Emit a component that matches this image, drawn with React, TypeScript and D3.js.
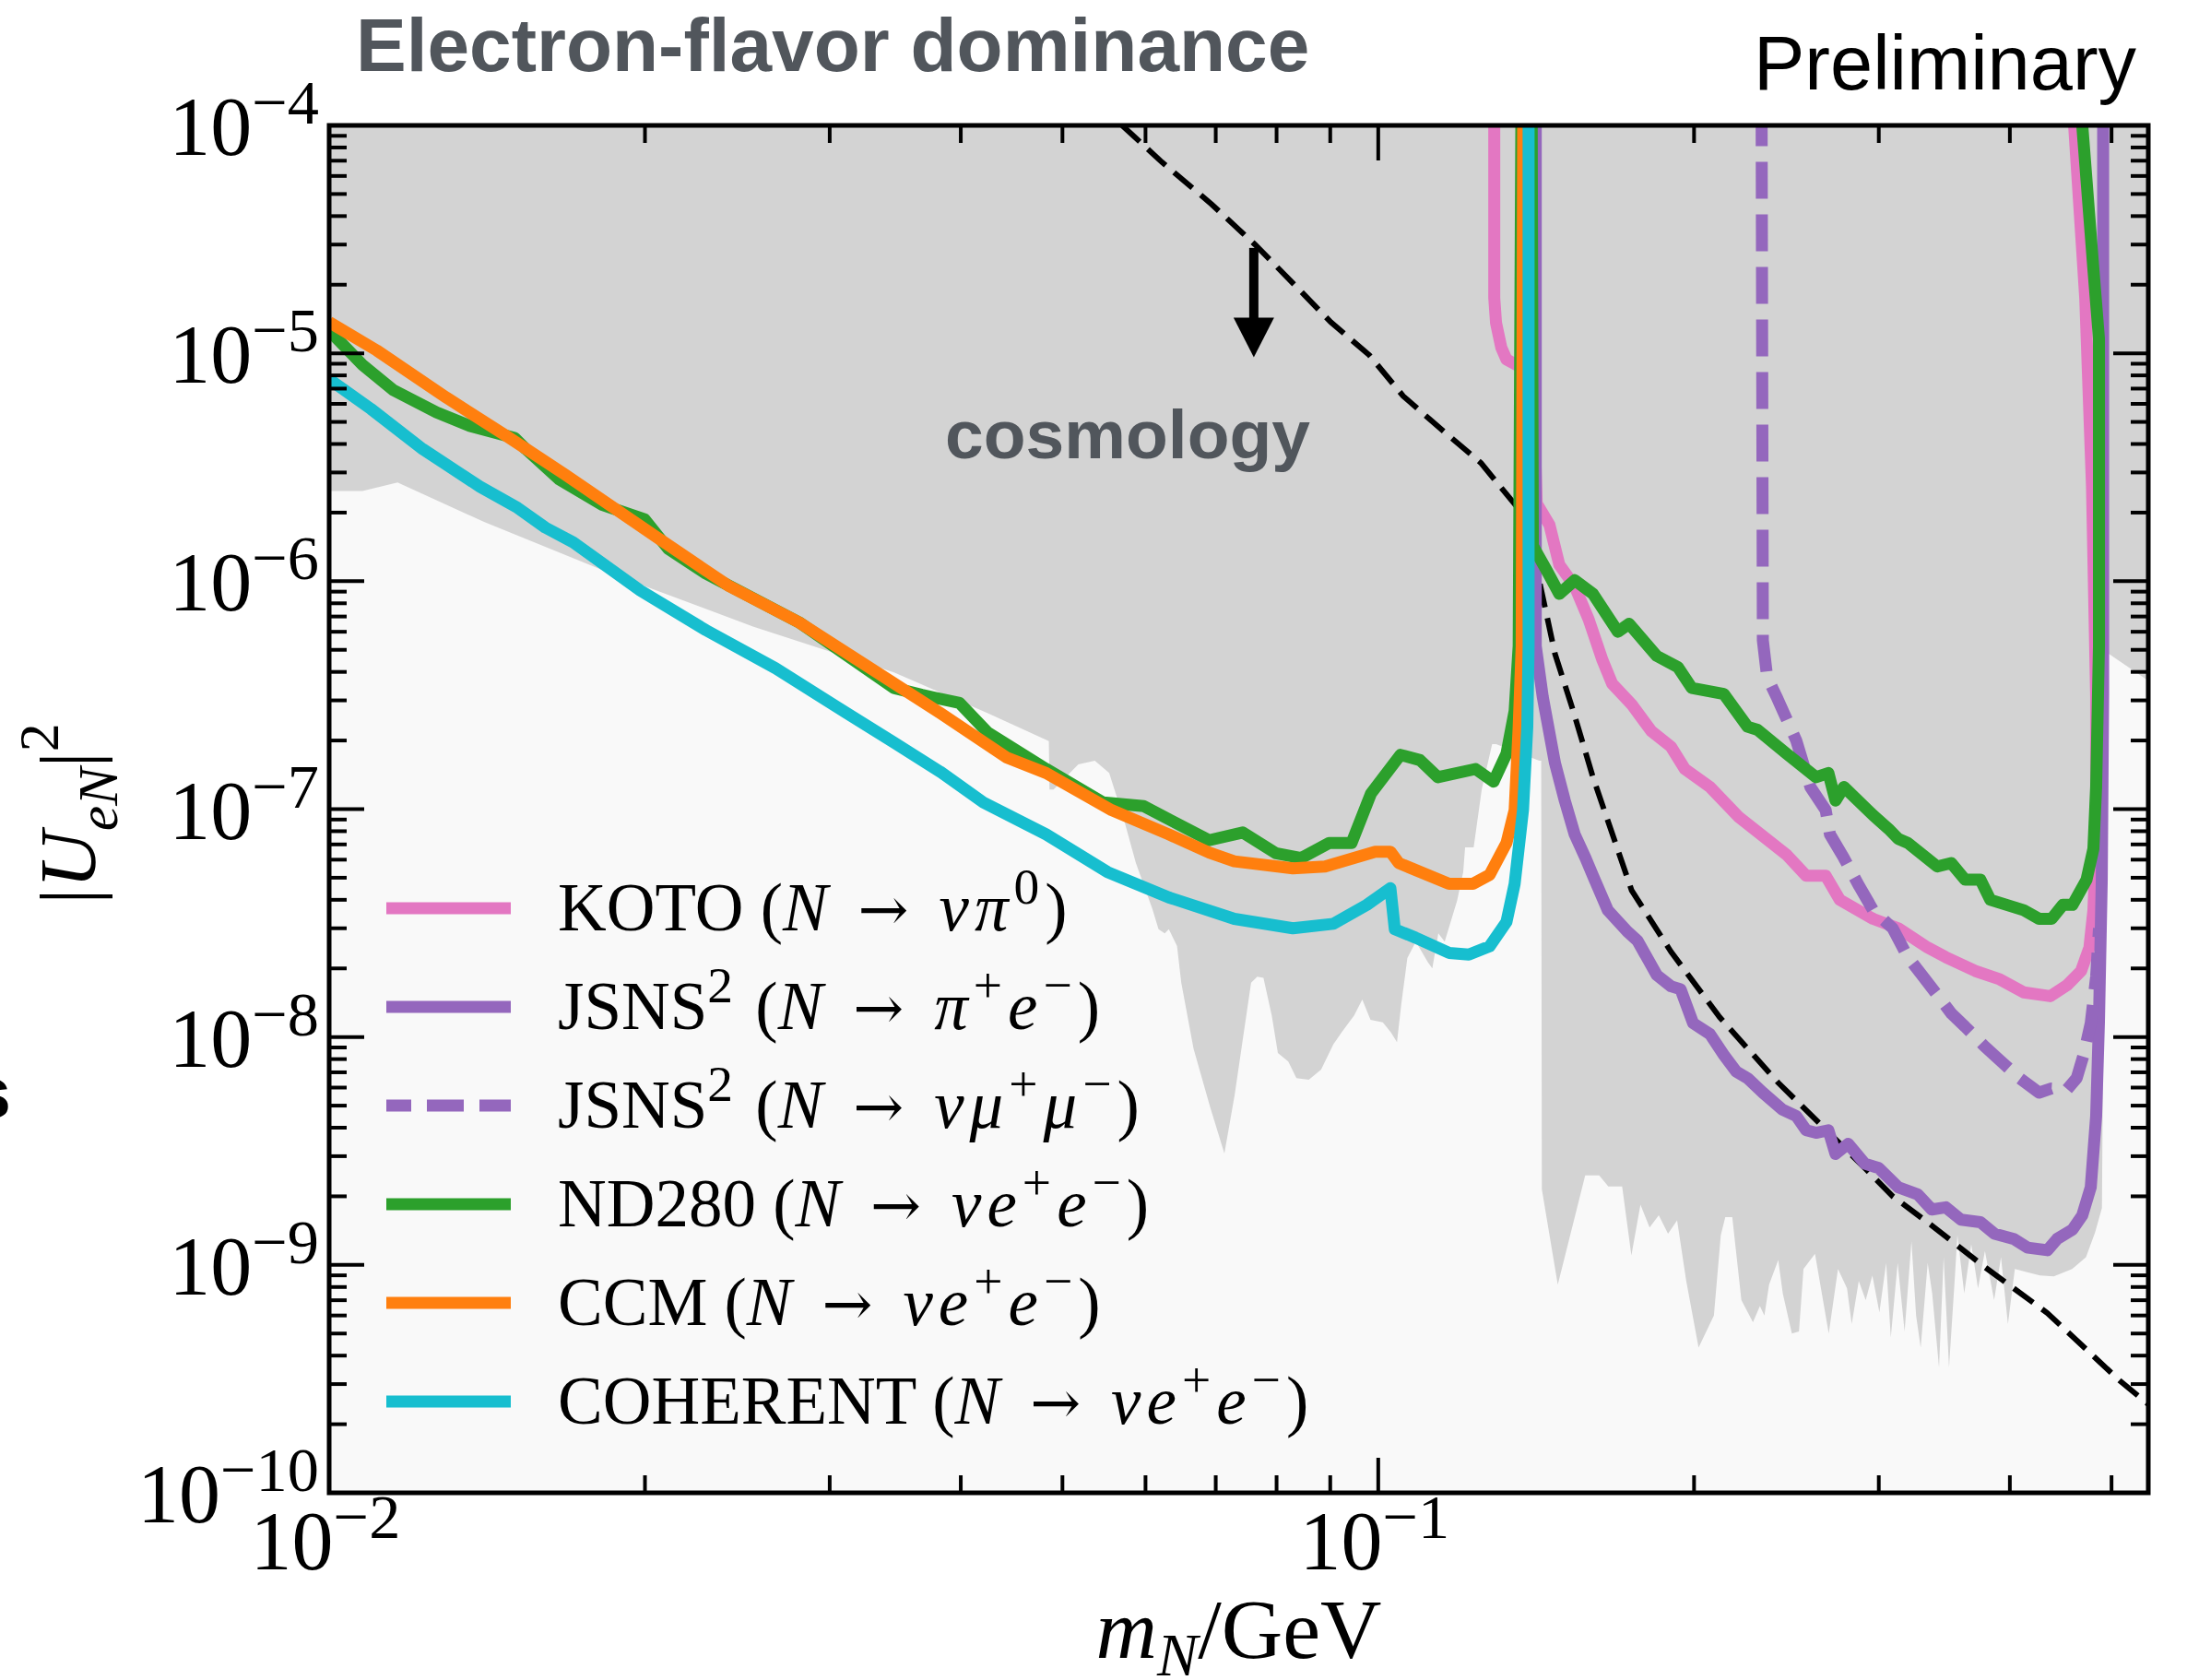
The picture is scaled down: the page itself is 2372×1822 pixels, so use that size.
import * as d3 from 'd3';

type Pt = [number, number];

// axis domains and decade labels
const xDomain: Pt = [0.01, 0.542];
const yDomain: Pt = [1e-10, 1e-4];
const xExps = [-2, -1];
const yExps = [-4, -5, -6, -7, -8, -9, -10];

// KOTO (N -> nu pi0), two branches
const kotoLeft: Pt[] = [
  [0.129, 2e-4], [0.129, 1.75e-5], [0.1295, 1.36e-5], [0.131, 1.06e-5], [0.1325, 9.4e-6], [0.136, 8.8e-6],
];
const kotoRight: Pt[] = [
  [0.1404, 2e-4], [0.1408, 5.2e-6], [0.1416, 2.19e-6], [0.1456, 1.77e-6], [0.1488, 1.18e-6], [0.1539, 9.5e-7],
  [0.1587, 6.8e-7], [0.1636, 4.5e-7], [0.1671, 3.55e-7], [0.1744, 2.88e-7], [0.1821, 2.2e-7], [0.1901, 1.88e-7],
  [0.196, 1.5e-7], [0.2071, 1.25e-7], [0.2208, 9.2e-8], [0.2451, 6.3e-8], [0.2558, 5.1e-8], [0.267, 5.1e-8],
  [0.2754, 4.0e-8], [0.2963, 3.3e-8], [0.3131, 3.0e-8], [0.3339, 2.47e-8], [0.3475, 2.24e-8], [0.3706, 1.95e-8],
  [0.3914, 1.79e-8], [0.4124, 1.57e-8], [0.4371, 1.51e-8], [0.4536, 1.69e-8], [0.4677, 1.95e-8], [0.4763, 2.47e-8],
  [0.4805, 3.6e-8], [0.4834, 7.1e-8], [0.4834, 3.1e-7], [0.479, 2.6e-6], [0.472, 1.74e-5], [0.4606, 1e-4], [0.458, 2e-4],
];

// JSNS^2 (N -> pi+ e-)
const jsnsPiE: Pt[] = [
  [0.1413, 2e-4], [0.1413, 5.2e-7], [0.1435, 3.1e-7], [0.1474, 1.59e-7], [0.1506, 1.09e-7], [0.1539, 7.75e-8],
  [0.1576, 6.1e-8], [0.1602, 5.1e-8], [0.1655, 3.6e-8], [0.1728, 2.9e-8], [0.1766, 2.65e-8], [0.1843, 1.87e-8],
  [0.1901, 1.67e-8], [0.1942, 1.62e-8], [0.1996, 1.15e-8], [0.2071, 1.03e-8], [0.2135, 8.35e-9], [0.2194, 7.05e-9],
  [0.2249, 6.6e-9], [0.2326, 5.7e-9], [0.2428, 4.8e-9], [0.2503, 4.5e-9], [0.2558, 3.9e-9], [0.2614, 3.8e-9],
  [0.2686, 3.9e-9], [0.2728, 3.07e-9], [0.2805, 3.4e-9], [0.291, 2.78e-9], [0.3, 2.66e-9], [0.3131, 2.19e-9],
  [0.3268, 2.04e-9], [0.337, 1.75e-9], [0.3475, 1.79e-9], [0.3593, 1.58e-9], [0.375, 1.54e-9], [0.3867, 1.37e-9],
  [0.4036, 1.3e-9], [0.4161, 1.19e-9], [0.4343, 1.16e-9], [0.4437, 1.3e-9], [0.459, 1.43e-9], [0.4689, 1.65e-9],
  [0.4777, 2.19e-9], [0.4834, 4.5e-9], [0.4864, 1.17e-8], [0.4894, 4.9e-8], [0.4909, 3.2e-7], [0.4909, 2e-4],
];

// JSNS^2 (N -> nu mu+ mu-)
const jsnsMuMu: Pt[] = [
  [0.2319, 2e-4], [0.2326, 5.5e-7], [0.2348, 3.8e-7], [0.2398, 3.1e-7], [0.2503, 2.0e-7], [0.2582, 1.25e-7],
  [0.267, 9.9e-8], [0.2695, 7.75e-8], [0.2779, 6.1e-8], [0.2873, 4.6e-8], [0.2963, 3.6e-8], [0.3093, 3.0e-8],
  [0.3198, 2.24e-8], [0.3298, 1.87e-8], [0.3411, 1.53e-8], [0.3517, 1.27e-8], [0.3626, 1.11e-8], [0.3784, 9.1e-9],
  [0.3914, 7.9e-9], [0.4086, 6.6e-9], [0.4265, 5.7e-9], [0.4384, 5.95e-9], [0.4536, 5.9e-9], [0.4632, 6.6e-9],
  [0.4703, 8.35e-9], [0.4777, 1.15e-8], [0.4834, 1.84e-8], [0.4864, 3.0e-8],
];

// ND280 (N -> nu e+ e-)
const nd280: Pt[] = [
  [0.01, 1.26e-5], [0.01076, 8.9e-6], [0.01151, 6.9e-6], [0.01266, 5.5e-6], [0.01362, 4.8e-6], [0.01503, 4.25e-6],
  [0.0154, 3.8e-6], [0.01657, 2.8e-6], [0.01822, 2.16e-6], [0.01998, 1.87e-6], [0.02104, 1.39e-6], [0.02286, 1.08e-6],
  [0.02805, 6.6e-7], [0.03454, 3.4e-7], [0.03673, 3.17e-7], [0.0399, 2.92e-7], [0.04242, 2.17e-7], [0.04824, 1.5e-7],
  [0.05468, 1.07e-7], [0.05976, 1.03e-7], [0.06899, 7.3e-8], [0.07426, 7.9e-8], [0.07991, 6.4e-8], [0.08446, 6.1e-8],
  [0.08978, 7.1e-8], [0.0943, 7.1e-8], [0.09842, 1.17e-7], [0.105, 1.73e-7], [0.1096, 1.64e-7], [0.114, 1.38e-7],
  [0.1238, 1.5e-7], [0.1288, 1.32e-7], [0.1325, 1.75e-7], [0.1349, 2.7e-7], [0.1361, 5.2e-7], [0.137, 2e-4],
  [0.14, 2e-4], [0.1404, 1.43e-6], [0.1445, 1.13e-6], [0.1488, 8.8e-7], [0.1539, 1.01e-6], [0.1602, 8.8e-7],
  [0.1692, 6.0e-7], [0.1734, 6.5e-7], [0.1843, 4.7e-7], [0.193, 4.2e-7], [0.199, 3.4e-7], [0.2135, 3.2e-7],
  [0.2249, 2.3e-7], [0.2299, 2.23e-7], [0.2451, 1.75e-7], [0.2614, 1.38e-7], [0.2686, 1.44e-7], [0.2728, 1.09e-7],
  [0.2779, 1.25e-7], [0.2963, 9.4e-8], [0.3064, 8.2e-8], [0.3131, 7.4e-8], [0.3198, 7.1e-8], [0.3411, 5.6e-8],
  [0.3517, 5.8e-8], [0.3626, 4.9e-8], [0.375, 4.9e-8], [0.3832, 4.0e-8], [0.4124, 3.6e-8], [0.4265, 3.3e-8],
  [0.4384, 3.3e-8], [0.4493, 3.8e-8], [0.459, 3.8e-8], [0.4733, 4.9e-8], [0.4805, 6.7e-8], [0.4834, 1.25e-7],
  [0.4864, 5.2e-7], [0.4864, 1.16e-5], [0.4805, 2.34e-5], [0.4689, 1e-4], [0.466, 2e-4],
];

// CCM (N -> nu e+ e-)
const ccm: Pt[] = [
  [0.01, 1.37e-5], [0.0111, 1.03e-5], [0.01293, 6.4e-6], [0.0148, 4.3e-6], [0.01678, 2.94e-6], [0.0206, 1.54e-6],
  [0.02407, 9.5e-7], [0.02805, 6.6e-7], [0.03281, 4.15e-7], [0.03823, 2.64e-7], [0.04428, 1.68e-7], [0.04824, 1.44e-7],
  [0.05569, 9.9e-8], [0.06314, 7.75e-8], [0.06899, 6.45e-8], [0.07291, 5.9e-8], [0.08291, 5.5e-8], [0.08898, 5.6e-8],
  [0.09933, 6.5e-8], [0.1027, 6.5e-8], [0.1046, 5.8e-8], [0.1168, 4.7e-8], [0.1231, 4.7e-8], [0.1277, 5.15e-8],
  [0.1325, 7.1e-8], [0.1349, 9.9e-8], [0.1361, 2.3e-7], [0.137, 5.2e-7], [0.1375, 2e-4],
];

// COHERENT (N -> nu e+ e-)
const coherent: Pt[] = [
  [0.01, 7.7e-6], [0.01096, 5.7e-6], [0.01228, 3.8e-6], [0.01392, 2.6e-6], [0.01512, 2.1e-6], [0.01607, 1.72e-6],
  [0.01709, 1.48e-6], [0.0198, 9.1e-7], [0.02286, 6.1e-7], [0.02664, 4.15e-7], [0.03113, 2.64e-7], [0.03454, 1.96e-7],
  [0.03823, 1.46e-7], [0.04203, 1.07e-7], [0.04824, 7.75e-8], [0.05518, 5.3e-8], [0.06314, 4.1e-8], [0.07291, 3.3e-8],
  [0.08291, 3.0e-8], [0.09062, 3.14e-8], [0.09752, 3.8e-8], [0.1027, 4.5e-8], [0.1037, 2.97e-8], [0.1085, 2.73e-8],
  [0.1168, 2.34e-8], [0.122, 2.3e-8], [0.1277, 2.5e-8], [0.1325, 3.2e-8], [0.1349, 4.7e-8], [0.1374, 9.9e-8],
  [0.1387, 2.3e-7], [0.1391, 5.2e-7], [0.1391, 2e-4],
];

// cosmology bound (black dashed)
const cosmoBound: Pt[] = [
  [0.057, 1.0e-4], [0.0622, 6.9e-5], [0.0694, 4.5e-5], [0.0763, 3.0e-5], [0.0832, 2.0e-5], [0.0901, 1.37e-5],
  [0.0981, 9.8e-6], [0.1056, 6.5e-6], [0.1151, 4.6e-6], [0.1253, 3.3e-6], [0.1358, 2.1e-6], [0.1425, 9.9e-7],
  [0.1474, 4.8e-7], [0.1534, 2.7e-7], [0.1602, 1.38e-7], [0.1744, 4.4e-8], [0.1901, 2.37e-8], [0.2116, 1.22e-8],
  [0.2406, 6.3e-9], [0.2645, 4.1e-9], [0.291, 2.66e-9], [0.3093, 2.0e-9], [0.337, 1.49e-9], [0.3784, 9.8e-10],
  [0.4343, 6.15e-10], [0.5093, 3.1e-10], [0.542, 2.45e-10],
];

// lower edge of the grey excluded region, left to right
const excludedEdge: Pt[] = [
  [0.01, 2.49e-6], [0.01076, 2.49e-6], [0.01162, 2.71e-6], [0.01405, 1.82e-6], [0.01856, 1.08e-6], [0.02535, 6.33e-7],
  [0.03455, 3.98e-7], [0.0424, 2.64e-7], [0.04853, 1.99e-7], [0.0486, 1.22e-7], [0.04904, 1.22e-7], [0.05177, 1.57e-7],
  [0.05368, 1.63e-7], [0.0554, 1.44e-7], [0.05718, 9.1e-8], [0.05875, 5.8e-8], [0.06091, 3.65e-8], [0.06174, 2.97e-8],
  [0.06259, 2.85e-8], [0.06315, 2.97e-8], [0.0643, 2.51e-8], [0.0649, 1.73e-8], [0.06667, 8.9e-9], [0.06912, 4.96e-9],
  [0.07134, 3.08e-9], [0.07298, 5.6e-9], [0.07565, 1.73e-8], [0.07668, 1.84e-8], [0.07773, 1.82e-8], [0.07916, 1.24e-8],
  [0.08023, 8.5e-9], [0.08208, 7.8e-9], [0.08356, 6.6e-9], [0.08586, 6.5e-9], [0.08821, 7.2e-9], [0.09063, 9.3e-9],
  [0.09229, 1.05e-8], [0.09482, 1.24e-8], [0.09656, 1.46e-8], [0.09831, 1.19e-8], [0.101, 1.16e-8], [0.1028, 1.05e-8],
  [0.1042, 9.5e-9], [0.1052, 1.4e-8], [0.1066, 2.22e-8], [0.1086, 2.62e-8], [0.1115, 2.13e-8], [0.1126, 2.0e-8],
  [0.1141, 2.85e-8], [0.1157, 2.62e-8], [0.1189, 3.97e-8], [0.1205, 5.3e-8], [0.121, 6.8e-8], [0.1233, 6.8e-8],
  [0.1255, 1.22e-7], [0.1284, 1.93e-7], [0.1295, 1.93e-7], [0.1424, 1.63e-7], [0.143, 1.63e-7],
  [0.1432, 2.15e-9], [0.1483, 8.2e-10], [0.1575, 2.47e-9], [0.1624, 2.47e-9], [0.1657, 2.21e-9], [0.1708, 2.21e-9],
  [0.1743, 1.1e-9], [0.1778, 1.84e-9], [0.1814, 1.46e-9], [0.1851, 1.65e-9], [0.1889, 1.37e-9], [0.1927, 1.57e-9],
  [0.1966, 8.5e-10], [0.202, 4.34e-10], [0.2089, 6.0e-10], [0.2121, 1.35e-9], [0.2142, 1.62e-9], [0.2175, 1.62e-9],
  [0.2219, 7.0e-10], [0.2276, 5.6e-10], [0.2311, 6.6e-10], [0.2334, 6.0e-10], [0.2358, 8.2e-10], [0.2406, 1.05e-9],
  [0.243, 7.5e-10], [0.2479, 5.0e-10], [0.2518, 5.1e-10], [0.2543, 9.6e-10], [0.2608, 1.12e-9], [0.2688, 5.0e-10],
  [0.2743, 9.6e-10], [0.2798, 7.9e-10], [0.2827, 5.5e-10], [0.2871, 8.5e-10], [0.2915, 7.0e-10], [0.2958, 9.0e-10],
  [0.3004, 6.2e-10], [0.3049, 1.02e-9], [0.308, 4.8e-10], [0.3127, 1.02e-9], [0.3175, 5.1e-10], [0.3223, 1.27e-9],
  [0.3256, 6.0e-10], [0.3289, 4.34e-10], [0.334, 1.02e-9], [0.3373, 7.5e-10], [0.3424, 3.55e-10], [0.3459, 1.08e-9],
  [0.35, 3.55e-10], [0.3546, 9.0e-10], [0.3565, 1.35e-9], [0.3619, 7.5e-10], [0.3675, 1.23e-9], [0.373, 7.9e-10],
  [0.3787, 1.15e-9], [0.3864, 7.0e-10], [0.3923, 1.08e-9], [0.3983, 5.5e-10], [0.4044, 9.6e-10], [0.4147, 9.3e-10],
  [0.4273, 9.0e-10], [0.4405, 8.9e-10], [0.4586, 9.6e-10], [0.4727, 1.08e-9], [0.4823, 1.39e-9], [0.4896, 1.78e-9],
  [0.4939, 4.9e-7], [0.542, 3.66e-7],
];

// arrow under the cosmology bound: mass, from, to
const arrowAt: [number, number, number] = [0.0761, 2.9e-5, 9.6e-6];

type Part = [string, string];
const ARROW = ' \u2192 ';
const nuEE: Part[] = [['N', 'i'], [ARROW, 'a'], ['\u03bd', 'i'], ['e', 'i'], ['+', 'sup'], ['e', 'i'], ['\u2212', 'sup'], [')', 'r']];

const legendRows = [
  { color: '#e377c2', dash: false, parts: [['KOTO (', 'r'], ['N', 'i'], [ARROW, 'a'], ['\u03bd\u03c0', 'i'], ['0', 'sup'], [')', 'r']] as Part[] },
  { color: '#9467bd', dash: false, parts: [['JSNS', 'r'], ['2', 'sup'], [' (', 'r'], ['N', 'i'], [ARROW, 'a'], ['\u03c0', 'i'], ['+', 'sup'], ['e', 'i'], ['\u2212', 'sup'], [')', 'r']] as Part[] },
  { color: '#9467bd', dash: true, parts: [['JSNS', 'r'], ['2', 'sup'], [' (', 'r'], ['N', 'i'], [ARROW, 'a'], ['\u03bd\u03bc', 'i'], ['+', 'sup'], ['\u03bc', 'i'], ['\u2212', 'sup'], [')', 'r']] as Part[] },
  { color: '#2ca02c', dash: false, parts: [['ND280 (', 'r'], ...nuEE] as Part[] },
  { color: '#ff7f0e', dash: false, parts: [['CCM (', 'r'], ...nuEE] as Part[] },
  { color: '#17becf', dash: false, parts: [['COHERENT (', 'r'], ...nuEE] as Part[] },
];

const SERIF = "'Liberation Serif', 'DejaVu Serif', serif";
const SANS = "'Liberation Sans', Arial, sans-serif";

function RichText({ parts, size, shift, supScale = 0.72, mathSpacing = 0, ...rest }: any) {
  let cur = 0;
  return (
    <text {...rest} fontSize={size} fontFamily={SERIF} style={{ whiteSpace: 'pre' }}>
      {parts.map(([t, s]: Part, i: number) => {
        const small = s === 'sup' || s === 'sub' || s === 'isub';
        const target = s === 'sup' ? -shift : s === 'sub' || s === 'isub' ? shift * 0.6 : 0;
        const dy = target - cur;
        cur = target;
        return (
          <tspan key={i} dy={dy} fontStyle={s === 'i' || s === 'isub' ? 'italic' : 'normal'}
            fontFamily={s === 'a' ? "'DejaVu Serif', serif" : undefined}
            letterSpacing={s === 'r' ? undefined : mathSpacing}
            fontSize={small ? size * supScale : s === 'a' ? size * 0.9 : size}>{t}</tspan>
        );
      })}
    </text>
  );
}

export default function App() {
  const W = 2372, H = 1822;
  const L = 357, R = 2330, T = 136, B = 1619;
  const x = d3.scaleLog().domain(xDomain).range([L, R]);
  const y = d3.scaleLog().domain(yDomain).range([B, T]);
  const line = d3.line<Pt>().x((d) => x(d[0])).y((d) => y(d[1]));

  const region: Pt[] = [[xDomain[0], yDomain[1]], ...excludedEdge, [xDomain[1], yDomain[1]]];

  const isMajor = (v: number) => Math.abs(Math.log10(v) - Math.round(Math.log10(v))) < 1e-6;
  const xTicks = x.ticks();
  const yTicks = y.ticks();
  const majLen = 38, minLen = 19;

  const series = [
    { d: kotoLeft, c: '#e377c2' }, { d: kotoRight, c: '#e377c2' },
    { d: jsnsPiE, c: '#9467bd' }, { d: jsnsMuMu, c: '#9467bd', dash: '40 17' },
    { d: nd280, c: '#2ca02c' }, { d: ccm, c: '#ff7f0e' }, { d: coherent, c: '#17becf' },
  ];

  const ax = x(arrowAt[0]), ay0 = y(arrowAt[1]), ay1 = y(arrowAt[2]);

  return (
    <svg width={W} height={H} style={{ position: 'absolute', left: 0, top: 0, display: 'block', background: '#fff' }}>
      <defs>
        <clipPath id="plot"><rect x={L} y={T} width={R - L} height={B - T} /></clipPath>
      </defs>

      <text x={386} y={77} fontFamily={SANS} fontWeight="bold" fontSize={82} fill="#51565c">Electron-flavor dominance</text>
      <text x={1902} y={97} fontFamily={SANS} fontSize={83} fill="#000">Preliminary</text>
      <text x={12} y={1212} textAnchor="end" fontFamily={SANS} fontWeight="bold" fontSize={78} fill="#000">s</text>

      <g clipPath="url(#plot)">
        <rect x={L} y={T} width={R - L} height={B - T} fill="#f9f9f9" />
        <path d={line(region) + 'Z'} fill="#d3d3d3" />
        <path d={line(cosmoBound) || ''} fill="none" stroke="#000" strokeWidth={6} strokeDasharray="26 12" />
        {series.map((s, i) => (
          <path key={i} d={line(s.d) || ''} fill="none" stroke={s.c} strokeWidth={13}
            strokeLinejoin="round" strokeDasharray={s.dash} />
        ))}
      </g>

      <line x1={ax} x2={ax} y1={ay0} y2={ay1 - 40} stroke="#000" strokeWidth={10} />
      <path d={`M${ax - 22},${ay1 - 43}L${ax + 22},${ay1 - 43}L${ax},${ay1}Z`} fill="#000" />
      <text x={1421} y={497} textAnchor="end" fontFamily={SANS} fontWeight="bold" fontSize={75} fill="#51565c">cosmology</text>

      {/* ticks on all four sides, pointing in */}
      <g stroke="#000" strokeWidth={4}>
        {xTicks.map((v, i) => {
          const len = isMajor(v) ? majLen : minLen;
          return (
            <g key={'x' + i}>
              <line x1={x(v)} x2={x(v)} y1={B} y2={B - len} />
              <line x1={x(v)} x2={x(v)} y1={T} y2={T + len} />
            </g>
          );
        })}
        {yTicks.map((v, i) => {
          const len = isMajor(v) ? majLen : minLen;
          return (
            <g key={'y' + i}>
              <line x1={L} x2={L + len} y1={y(v)} y2={y(v)} />
              <line x1={R} x2={R - len} y1={y(v)} y2={y(v)} />
            </g>
          );
        })}
      </g>
      <rect x={L} y={T} width={R - L} height={B - T} fill="none" stroke="#000" strokeWidth={5} />

      {yExps.map((e) => (
        <RichText key={'yl' + e} x={346} y={y(Math.pow(10, e)) + 32} textAnchor="end" size={90} shift={34}
          supScale={0.76} parts={[['10', 'r'], ['\u2212' + Math.abs(e), 'sup']]} />
      ))}
      {xExps.map((e) => (
        <RichText key={'xl' + e} x={x(Math.pow(10, e)) - 4} y={1702} textAnchor="middle" size={90} shift={34}
          supScale={0.76} parts={[['10', 'r'], ['\u2212' + Math.abs(e), 'sup']]} />
      ))}

      <RichText x={(L + R) / 2} y={1798} textAnchor="middle" size={92} shift={32}
        parts={[['m', 'i'], ['N', 'isub'], ['/GeV', 'r']]} />
      <RichText transform={`translate(103, ${(T + B) / 2 + 5}) rotate(-90)`} textAnchor="middle" size={86} shift={40}
        parts={[['|', 'r'], ['U', 'i'], ['eN', 'isub'], ['|', 'r'], ['2', 'sup']]} />

      {legendRows.map((r, i) => {
        const cy = 985 + i * 107;
        return (
          <g key={'lg' + i}>
            <line x1={419} x2={554} y1={cy} y2={cy} stroke={r.color} strokeWidth={13}
              strokeDasharray={r.dash ? '40 17' : undefined} strokeDashoffset={r.dash ? 13 : undefined} />
            <RichText x={605} y={cy + 24} size={73} shift={29} supScale={0.76} mathSpacing={6} parts={r.parts} />
          </g>
        );
      })}
    </svg>
  );
}
